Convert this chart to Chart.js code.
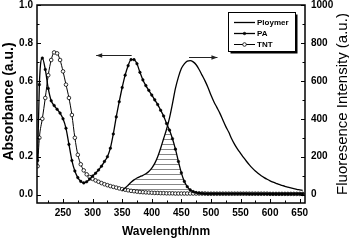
<!DOCTYPE html>
<html><head><meta charset="utf-8">
<script src="https://cdn.jsdelivr.net/npm/chart.js@4"></script>
<style>html,body{margin:0;padding:0;background:#fff}#wrap{width:349px;height:241px;position:relative}</style>
</head><body><div id="wrap"><canvas id="c"></canvas></div>
<script>
// ---------- data ----------
const seriesNames = ['Ploymer', 'PA', 'TNT'];
const absWavelengths = [207,210,215,220,225,230,235,240,245,250,255,260,265,270,275,280,285,290,295,300,305,310,315,320,325,330,335,340,345,350,355,360,365,370,375,380,385,390,395,400,405,410,415,420,425,430,435,440,445,450,455,460,465,470,475,480,485,490,495,500,505,510,515,520,525,530,535,540,545,550,555,560,565,570,575,580,585,590,595,600,605,610,615,620,625,630,635,640,645,650,655];
const paAbsorbance = [0.18,0.58,0.72,0.66,0.56,0.495,0.47,0.45,0.43,0.40,0.35,0.265,0.18,0.125,0.09,0.07,0.062,0.068,0.082,0.098,0.113,0.13,0.15,0.175,0.20,0.245,0.32,0.41,0.49,0.565,0.63,0.68,0.712,0.712,0.69,0.645,0.605,0.575,0.55,0.525,0.50,0.475,0.445,0.415,0.375,0.34,0.295,0.24,0.175,0.115,0.07,0.042,0.025,0.016,0.011,0.008,0.006,0.005,0.005,0.005,0.005,0.005,0.005,0.005,0.005,0.005,0.005,0.005,0.005,0.005,0.005,0.005,0.004,0.004,0.004,0.004,0.004,0.004,0.004,0.004,0.004,0.004,0.004,0.004,0.004,0.004,0.004,0.004,0.004,0.004,0.004];
const tntAbsorbance = [0.15,0.30,0.40,0.51,0.63,0.71,0.75,0.745,0.71,0.65,0.58,0.51,0.42,0.30,0.21,0.16,0.128,0.107,0.093,0.083,0.075,0.068,0.061,0.055,0.05,0.045,0.041,0.037,0.033,0.029,0.026,0.023,0.02,0.018,0.016,0.014,0.013,0.012,0.011,0.01,0.009,0.009,0.008,0.008,0.007,0.007,0.007,0.006,0.006,0.006,0.006,0.006,0.006,0.006,0.006,0.006,0.006,0.006,0.005,0.005,0.005,0.005,0.005,0.005,0.005,0.005,0.005,0.005,0.005,0.005,0.005,0.005,0.005,0.005,0.005,0.005,0.005,0.005,0.005,0.004,0.004,0.004,0.004,0.004,0.004,0.004,0.004,0.004,0.004,0.004,0.004];
const flWavelengths = [350,355,360,365,370,375,380,385,390,395,400,405,410,415,420,425,430,435,440,445,450,455,460,465,470,475,480,485,490,495,500,505,510,515,520,525,530,535,540,545,550,555,560,565,570,575,580,585,590,595,600,605,610,615,620,625,630,635,640,645,650,655];
const polymerIntensity = [22,35,50,65,78,88,95,102,110,122,140,165,200,245,295,345,405,480,560,620,665,690,704,707,700,685,660,630,600,565,525,490,460,430,395,360,330,295,265,240,218,196,176,157,140,125,112,100,90,81,73,66,60,54,49,44,40,36,32,28,25,22];
const xTickLabels = [250,300,350,400,450,500,550,600,650];
const xMinorTicks = [225,275,325,375,425,475,525,575,625];
const absTickLabels = [0.0,0.2,0.4,0.6,0.8,1.0];
const absMinorTicks = [0.1,0.3,0.5,0.7,0.9];
const flTickLabels = [0,200,400,600,800,1000];
const flMinorTicks = [100,300,500,700,900];
const xTitle = 'Wavelength/nm';
const yTitle = 'Absorbance (a.u.)';
const y1Title = 'Fluoresence Intensity (a.u.)';

// ---------- helpers ----------
const FONT = "'Liberation Sans', Arial, sans-serif";
const pts = (xs, ys) => xs.map((x, i) => ({x, y: ys[i]}));

function tracePath(ctx, p) {
  ctx.lineTo(p[0].x, p[0].y);
  for (let i = 1; i < p.length; i++) {
    const a = p[i-1], b = p[i];
    if (a.cp2x !== undefined && b.cp1x !== undefined) ctx.bezierCurveTo(a.cp2x, a.cp2y, b.cp1x, b.cp1y, b.x, b.y);
    else ctx.lineTo(b.x, b.y);
  }
}
function clipUnder(ctx, p, y0) {
  ctx.beginPath();
  ctx.moveTo(p[0].x, y0);
  tracePath(ctx, p);
  ctx.lineTo(p[p.length-1].x, y0);
  ctx.closePath();
  ctx.clip();
}
function arrow(ctx, x1, y, x2) {
  ctx.beginPath(); ctx.moveTo(x1, y); ctx.lineTo(x2, y); ctx.stroke();
  const d = Math.sign(x2 - x1);
  ctx.beginPath(); ctx.moveTo(x2, y); ctx.lineTo(x2 - d*6, y - 2.2); ctx.lineTo(x2 - d*6, y + 2.2); ctx.closePath(); ctx.fill();
}

const decor = {
  id: 'decor',
  beforeDatasetsDraw(chart) {
    const {ctx, chartArea: a, scales} = chart;
    const y0 = scales.y.getPixelForValue(0);
    ctx.save();
    ctx.beginPath(); ctx.rect(a.left, a.top, a.right - a.left, a.bottom - a.top); ctx.clip();
    clipUnder(ctx, chart.getDatasetMeta(1).data, y0);
    clipUnder(ctx, chart.getDatasetMeta(0).data, y0);
    ctx.strokeStyle = '#7a7a7a'; ctx.lineWidth = 0.9;
    ctx.beginPath();
    for (let y = Math.round(y0 - 6) + 0.5; y > a.top; y -= 5) { ctx.moveTo(a.left, y); ctx.lineTo(a.right, y); }
    ctx.stroke();
    ctx.restore();
  },
  afterDraw(chart) {
    const {ctx, chartArea: a, scales: {x, y, y1}} = chart;
    ctx.save();
    // frame
    ctx.strokeStyle = '#000'; ctx.lineWidth = 1.5;
    ctx.strokeRect(a.left, a.top, a.right - a.left, a.bottom - a.top);
    // inward ticks
    ctx.lineWidth = 1;
    ctx.beginPath();
    xTickLabels.forEach(v => { const px = Math.round(x.getPixelForValue(v)) + 0.5; ctx.moveTo(px, a.bottom); ctx.lineTo(px, a.bottom - 4); });
    xMinorTicks.forEach(v => { const px = Math.round(x.getPixelForValue(v)) + 0.5; ctx.moveTo(px, a.bottom); ctx.lineTo(px, a.bottom - 2.5); });
    absTickLabels.forEach(v => { const py = Math.round(y.getPixelForValue(v)) + 0.5; ctx.moveTo(a.left, py); ctx.lineTo(a.left + 4, py); });
    absMinorTicks.forEach(v => { const py = Math.round(y.getPixelForValue(v)) + 0.5; ctx.moveTo(a.left, py); ctx.lineTo(a.left + 2.5, py); });
    flTickLabels.forEach(v => { const py = Math.round(y1.getPixelForValue(v)) + 0.5; ctx.moveTo(a.right, py); ctx.lineTo(a.right - 4, py); });
    flMinorTicks.forEach(v => { const py = Math.round(y1.getPixelForValue(v)) + 0.5; ctx.moveTo(a.right, py); ctx.lineTo(a.right - 2.5, py); });
    ctx.stroke();
    // arrows
    ctx.strokeStyle = '#222'; ctx.fillStyle = '#222'; ctx.lineWidth = 1;
    arrow(ctx, x.getPixelForValue(366), Math.round(y.getPixelForValue(0.737)) + 0.5, x.getPixelForValue(306));
    arrow(ctx, x.getPixelForValue(463), Math.round(y1.getPixelForValue(727)) + 0.5, x.getPixelForValue(511));
    // axis titles
    ctx.fillStyle = '#000'; ctx.textAlign = 'center'; ctx.textBaseline = 'middle';
    ctx.font = 'bold 12px ' + FONT;
    ctx.fillText(xTitle, (a.left + a.right) / 2 - 5, 232);
    ctx.save(); ctx.translate(9.5, (a.top + a.bottom) / 2 - 2.5); ctx.rotate(-Math.PI / 2);
    ctx.font = 'bold 14px ' + FONT; ctx.fillText(yTitle, 0, 0); ctx.restore();
    ctx.save(); ctx.translate(343, (a.top + a.bottom) / 2); ctx.rotate(-Math.PI / 2);
    ctx.font = '15px ' + FONT; ctx.fillText(y1Title, 0, 0); ctx.restore();
    // legend
    const bw = 67, bh = 39, bx = a.right - 77, by = a.top + 7;
    ctx.fillStyle = '#000'; ctx.fillRect(bx + 2.5, by + 2.5, bw, bh);
    ctx.fillStyle = '#fff'; ctx.fillRect(bx, by, bw, bh);
    ctx.strokeStyle = '#000'; ctx.lineWidth = 1; ctx.strokeRect(bx + 0.5, by + 0.5, bw, bh);
    chart.data.datasets.forEach((ds, i) => {
      const ly = Math.round(by + 10 + i * 11) + 0.5, lx0 = bx + 6, lx1 = bx + 27;
      ctx.strokeStyle = '#000'; ctx.lineWidth = ds.borderWidth;
      ctx.beginPath(); ctx.moveTo(lx0, ly); ctx.lineTo(lx1, ly); ctx.stroke();
      if (ds.pointRadius > 0) {
        ctx.beginPath(); ctx.arc((lx0 + lx1) / 2, ly, ds.pointRadius, 0, Math.PI * 2);
        ctx.fillStyle = ds.pointBackgroundColor; ctx.fill();
        ctx.lineWidth = ds.pointBorderWidth; ctx.strokeStyle = '#000'; ctx.stroke();
      }
      ctx.fillStyle = '#000'; ctx.textAlign = 'left'; ctx.textBaseline = 'middle';
      ctx.font = 'bold 8px ' + FONT;
      ctx.fillText(ds.label, bx + 29, ly);
    });
    ctx.restore();
  }
};

const tickFont = {family: FONT, size: 10, weight: 'bold'};
const fixPad = s => { s.paddingTop = 0; s.paddingBottom = 0; s.paddingLeft = 0; s.paddingRight = 0; };

new Chart(document.getElementById('c'), {
  type: 'line',
  data: {
    datasets: [
      {label: seriesNames[0], data: pts(flWavelengths, polymerIntensity), yAxisID: 'y1',
       borderColor: '#000', borderWidth: 1.3, pointRadius: 0, pointBackgroundColor: '#000', pointBorderWidth: 0,
       cubicInterpolationMode: 'monotone', fill: false},
      {label: seriesNames[1], data: pts(absWavelengths, paAbsorbance), yAxisID: 'y',
       borderColor: '#000', borderWidth: 1.3, pointRadius: 1.3, pointBackgroundColor: '#000', pointBorderColor: '#000', pointBorderWidth: 0.5,
       cubicInterpolationMode: 'monotone', fill: false},
      {label: seriesNames[2], data: pts(absWavelengths, tntAbsorbance), yAxisID: 'y',
       borderColor: '#000', borderWidth: 1, pointRadius: 1.8, pointBackgroundColor: '#fff', pointBorderColor: '#000', pointBorderWidth: 0.8,
       cubicInterpolationMode: 'monotone', fill: false}
    ]
  },
  options: {
    responsive: true, maintainAspectRatio: false, animation: false,
    layout: {padding: {top: 5, left: 0, right: 0, bottom: 0}},
    plugins: {legend: {display: false}, tooltip: {enabled: false}},
    events: [],
    scales: {
      x: {type: 'linear', position: 'bottom', min: 206, max: 659,
          afterBuildTicks: s => { s.ticks = xTickLabels.map(v => ({value: v})); },
          ticks: {font: tickFont, color: '#000', padding: 4, maxRotation: 0, autoSkip: false, callback: v => String(v)},
          grid: {display: false, drawTicks: false}, border: {display: false},
          afterFit: s => { s.height = 38; fixPad(s); }},
      y: {type: 'linear', position: 'left', min: -0.044, max: 1.0,
          afterBuildTicks: s => { s.ticks = absTickLabels.map(v => ({value: v})); },
          ticks: {font: tickFont, color: '#000', padding: 4, autoSkip: false, callback: v => v.toFixed(1)},
          grid: {display: false, drawTicks: false}, border: {display: false},
          afterFit: s => { s.width = 37; fixPad(s); }},
      y1: {type: 'linear', position: 'right', min: -44, max: 1000,
          afterBuildTicks: s => { s.ticks = flTickLabels.map(v => ({value: v})); },
          ticks: {font: tickFont, color: '#000', padding: 6, autoSkip: false, callback: v => String(v)},
          grid: {display: false, drawTicks: false}, border: {display: false},
          afterFit: s => { s.width = 44; fixPad(s); }}
    }
  },
  plugins: [decor]
});
</script>
</body></html>
